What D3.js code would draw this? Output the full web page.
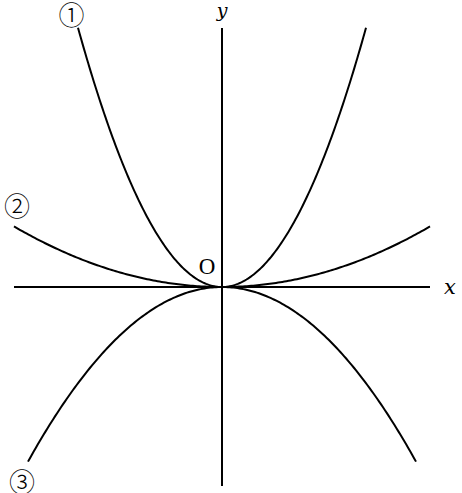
<!DOCTYPE html>
<html>
<head>
<meta charset="utf-8">
<script src="https://cdn.jsdelivr.net/npm/d3@7"></script>
<style>
  html, body { margin: 0; padding: 0; background: #fff; }
  svg { display: block; }
</style>
</head>
<body>
<script>
// Curves y = a * x^2 (x in chart units, 1 unit = 100 px)
const curveNames = ["①", "②", "③"];
const coefficients = [1.25, 0.14, -0.464];
const xExtents = [1.44, 2.08, 1.94];          // half-width of each drawn curve
const labelPositions = [[-1.505, 2.74], [-2.05, 0.83], [-2.0, -1.93]]; // label centre in units
const axisLabels = ["x", "y"];
const originLabel = "O";
const xDomain = [-2.08, 2.08];
const yDomain = [-1.99, 2.59];

const W = 462, H = 493;
const svg = d3.select("body").append("svg").attr("width", W).attr("height", H);

const x = d3.scaleLinear().domain(xDomain).range([14, 430]);
const y = d3.scaleLinear().domain(yDomain).range([486, 28]);

// axes
svg.append("line")
  .attr("x1", x(xDomain[0])).attr("x2", x(xDomain[1]))
  .attr("y1", y(0)).attr("y2", y(0))
  .attr("stroke", "#000").attr("stroke-width", 2);
svg.append("line")
  .attr("x1", x(0)).attr("x2", x(0))
  .attr("y1", y(yDomain[0])).attr("y2", y(yDomain[1]))
  .attr("stroke", "#000").attr("stroke-width", 2);

// curves
const line = d3.line().x(d => x(d[0])).y(d => y(d[1])).curve(d3.curveLinear);
coefficients.forEach((a, i) => {
  const ext = xExtents[i];
  const n = 200;
  const pts = d3.range(n + 1).map(k => {
    const xv = -ext + 2 * ext * k / n;
    return [xv, a * xv * xv];
  });
  svg.append("path")
    .attr("d", line(pts))
    .attr("fill", "none")
    .attr("stroke", "#000")
    .attr("stroke-width", 2)
    .attr("stroke-linecap", "butt");
});

// curve labels
curveNames.forEach((t, i) => {
  svg.append("text")
    .attr("x", x(labelPositions[i][0]))
    .attr("y", y(labelPositions[i][1]))
    .attr("text-anchor", "middle")
    .attr("dominant-baseline", "central")
    .attr("font-family", "'Noto Sans CJK JP', 'DejaVu Sans', sans-serif")
    .attr("font-weight", 300)
    .attr("font-size", 26)
    .attr("fill", "#000")
    .text(t);
});

// axis labels
svg.append("text")
  .attr("x", x(xDomain[1]) + 20).attr("y", y(0) + 7)
  .attr("text-anchor", "middle")
  .attr("font-family", "'DejaVu Serif', serif")
  .attr("font-style", "italic")
  .attr("font-size", 21)
  .text(axisLabels[0]);
svg.append("text")
  .attr("x", x(0)).attr("y", 17)
  .attr("text-anchor", "middle")
  .attr("font-family", "'DejaVu Serif', serif")
  .attr("font-style", "italic")
  .attr("font-size", 19)
  .text(axisLabels[1]);
svg.append("text")
  .attr("x", x(0) - 15).attr("y", y(0) - 13)
  .attr("text-anchor", "middle")
  .attr("font-family", "'Liberation Serif', serif")
  .attr("font-size", 23)
  .text(originLabel);
</script>
</body>
</html>
